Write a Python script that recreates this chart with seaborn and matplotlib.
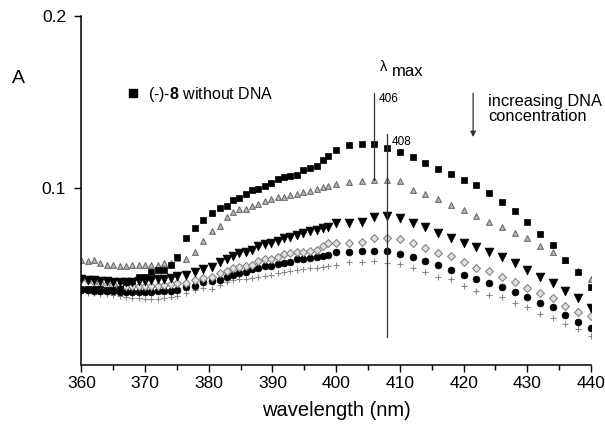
import matplotlib
matplotlib.use("Agg")
import matplotlib.pyplot as plt
from matplotlib.lines import Line2D
from matplotlib.ticker import MultipleLocator
import seaborn as sns

# wavelengths (nm) of the plotted points
wavelength = [
    360, 361, 362, 363, 364, 365, 366, 367, 368, 369, 370, 371, 372, 373, 374, 375,
    376.4, 377.8, 379.1, 380.5, 381.8, 382.8, 383.8, 384.8, 385.8, 386.8, 387.8,
    388.8, 389.8, 390.8, 391.8, 392.8, 393.8, 394.8, 395.9, 397, 398, 398.7, 400,
    402, 404, 406, 408, 410, 412, 414, 416, 418, 420, 422, 424, 426, 428, 430,
    432, 434, 436, 438, 440,
]

# (-)-8 without DNA
abs_free = [
    0.041, 0.041, 0.041, 0.041, 0.0405, 0.0405, 0.041, 0.0453, 0.046, 0.048, 0.0483,
    0.0512, 0.0521, 0.0525, 0.055, 0.0599,
    0.0706, 0.0765, 0.081, 0.0853, 0.0885, 0.0895, 0.0928, 0.0938, 0.0966, 0.0985,
    0.0995, 0.101, 0.1029, 0.1053, 0.1064, 0.107, 0.1072, 0.1103, 0.1113, 0.1129,
    0.1161, 0.1186, 0.1219,
    0.125, 0.1252, 0.1256, 0.1229, 0.121, 0.1177, 0.1147, 0.1111, 0.1082, 0.1045,
    0.1018, 0.0967, 0.0919, 0.0865, 0.0801, 0.0733, 0.0665, 0.058, 0.0512, 0.0425,
]

# increasing DNA concentration
abs_dna1 = [
    0.0578, 0.0572, 0.0578, 0.056, 0.0553, 0.0549, 0.0547, 0.0547, 0.0549, 0.0549,
    0.0553, 0.0549, 0.0553, 0.0562, 0.0564, 0.0593,
    0.0589, 0.0626, 0.069, 0.075, 0.0776, 0.0828, 0.0862, 0.0874, 0.0878, 0.0895,
    0.0907, 0.0923, 0.0934, 0.0945, 0.0948, 0.0958, 0.0963, 0.0975, 0.0983, 0.0995,
    0.1002, 0.1012, 0.1022,
    0.1032, 0.1037, 0.1045, 0.1048, 0.1037, 0.099, 0.0963, 0.0935, 0.0902, 0.0869,
    0.0836, 0.0803, 0.0774, 0.0739, 0.0709, 0.0664, 0.0628, 0.0579, 0.0518, 0.0471,
]
abs_dna2 = [
    0.0468, 0.0463, 0.0465, 0.046, 0.0456, 0.0452, 0.0452, 0.045, 0.0452, 0.0456,
    0.046, 0.0465, 0.0467, 0.047, 0.0478, 0.0485,
    0.0492, 0.0512, 0.0529, 0.0541, 0.0568, 0.0589, 0.0606, 0.062, 0.0626, 0.0636,
    0.0663, 0.0671, 0.0681, 0.0692, 0.0706, 0.0715, 0.0725, 0.0735, 0.0748, 0.0754,
    0.0764, 0.0774, 0.0793,
    0.0793, 0.0803, 0.0828, 0.0836, 0.0822, 0.0793, 0.0774, 0.0739, 0.0711, 0.0682,
    0.0653, 0.0624, 0.0595, 0.056, 0.0525, 0.0479, 0.0444, 0.0401, 0.0357, 0.0303,
]
abs_dna3 = [
    0.0475, 0.0462, 0.0455, 0.0448, 0.0442, 0.0438, 0.0435, 0.0432, 0.043, 0.0432,
    0.043, 0.0428, 0.043, 0.0435, 0.044, 0.0445,
    0.0448, 0.0462, 0.0473, 0.0483, 0.0502, 0.0516, 0.0531, 0.0541, 0.0545, 0.0551,
    0.0574, 0.0584, 0.0586, 0.0599, 0.0615, 0.0619, 0.0625, 0.0628, 0.0634, 0.064,
    0.066, 0.068, 0.068,
    0.0682, 0.0686, 0.0706, 0.0711, 0.0702, 0.0677, 0.0651, 0.0622, 0.0603, 0.057,
    0.0531, 0.0518, 0.0483, 0.0454, 0.0415, 0.0386, 0.0357, 0.0312, 0.0279, 0.0254,
]
abs_dna4 = [
    0.0405, 0.0405, 0.0403, 0.0402, 0.04, 0.0398, 0.0396, 0.0395, 0.0396, 0.0397,
    0.0395, 0.0396, 0.0398, 0.04, 0.0402, 0.0405,
    0.0425, 0.043, 0.0452, 0.046, 0.0462, 0.0479, 0.0492, 0.0506, 0.0512, 0.0527,
    0.0531, 0.0545, 0.0545, 0.0556, 0.0564, 0.0568, 0.0584, 0.0586, 0.059, 0.0599,
    0.0603, 0.0609, 0.0628,
    0.0628, 0.0632, 0.0632, 0.0632, 0.0618, 0.0595, 0.0574, 0.055, 0.0525, 0.0496,
    0.0469, 0.0444, 0.0421, 0.0392, 0.0367, 0.0332, 0.0305, 0.026, 0.0221, 0.0183,
]
abs_dna5 = [
    0.0395, 0.039, 0.0388, 0.0383, 0.038, 0.0375, 0.037, 0.0365, 0.036, 0.0358,
    0.0355, 0.0352, 0.0355, 0.036, 0.0365, 0.037,
    0.039, 0.0405, 0.0415, 0.0412, 0.0434, 0.0454, 0.0463, 0.0467, 0.0469, 0.0473,
    0.0483, 0.0487, 0.0492, 0.0506, 0.0512, 0.0518, 0.0525, 0.0528, 0.0531, 0.0535,
    0.0537, 0.0545, 0.055,
    0.057, 0.057, 0.0576, 0.0564, 0.0556, 0.0531, 0.0512, 0.0479, 0.0467, 0.0429,
    0.0401, 0.0376, 0.0363, 0.0332, 0.0305, 0.0266, 0.0246, 0.0208, 0.0177, 0.0138,
]

sns.set_style("ticks")
plt.rcParams["font.family"] = ["Liberation Sans", "DejaVu Sans"]
plt.rcParams["mathtext.fontset"] = "custom"
plt.rcParams["mathtext.rm"] = "Liberation Sans"
plt.rcParams["mathtext.bf"] = "Liberation Sans:bold"
for key in ("text.color", "axes.labelcolor", "xtick.color", "ytick.color"):
    plt.rcParams[key] = "black"

fig = plt.figure(figsize=(6.05, 4.25), dpi=100)
ax = fig.add_axes([0.1345, 0.142, 0.8423, 0.8209])

# (values, marker, face, edge, size, linewidth)
styles = [
    (abs_dna5, "+", "#8a8a8a", "#8a8a8a", 24, 0.8),
    (abs_dna4, "o", "black", "black", 24, 0.5),
    (abs_dna3, "D", "#e0e0e0", "#858585", 16, 0.8),
    (abs_dna2, "v", "black", "black", 40, 0.5),
    (abs_dna1, "^", "#b8b8b8", "#6e6e6e", 17, 0.8),
    (abs_free, "s", "black", "black", 24, 0.5),
]
for vals, marker, face, edge, size, lw in styles:
    if marker == "+":
        sns.scatterplot(x=wavelength, y=vals, marker=marker, color=face,
                        s=size, linewidth=lw, ax=ax, legend=False)
    else:
        sns.scatterplot(x=wavelength, y=vals, marker=marker, color=face,
                        edgecolor=edge, s=size, linewidth=lw, ax=ax, legend=False)

ax.set_xlim(360, 440)
ax.set_ylim(-0.0028, 0.2)
ax.xaxis.set_major_locator(MultipleLocator(10))
ax.xaxis.set_minor_locator(MultipleLocator(5))
ax.set_yticks([0.1, 0.2])
ax.set_yticklabels(["0.1", "0.2"])
ax.tick_params(axis="both", which="major", direction="out", length=5,
               width=1, labelsize=12.5, color="black")
ax.tick_params(axis="x", which="minor", direction="out", length=3.5, width=1)
ax.tick_params(axis="y", pad=6)
sns.despine(ax=ax)
for side in ("left", "bottom"):
    ax.spines[side].set_linewidth(1.1)
    ax.spines[side].set_color("black")

ax.set_xlabel("wavelength (nm)", fontsize=14.5, labelpad=7)
ax.set_ylabel("A", rotation=0, fontsize=14, ha="center", va="center")
ax.yaxis.set_label_coords(-0.124, 0.819)

# lambda max markers
ax.plot([406, 406], [0.1045, 0.1552], color="#333333", lw=0.9, zorder=1)
ax.plot([408, 408], [0.013, 0.1312], color="#333333", lw=0.9, zorder=1)
ax.text(406.6, 0.1516, "406", fontsize=8.5, va="center", ha="left")
ax.text(408.7, 0.1267, "408", fontsize=8.5, va="center", ha="left")
ax.text(407.4, 0.1705, "\u03bb", fontsize=10.5, va="center", ha="center")
ax.text(408.8, 0.1649, "max", fontsize=12, va="baseline", ha="left")

# DNA arrow and note
ax.annotate("", xy=(421.5, 0.1295), xytext=(421.5, 0.155),
            arrowprops=dict(arrowstyle="-|>", color="#333333", lw=0.9,
                            mutation_scale=8, shrinkA=0, shrinkB=0))
ax.text(423.8, 0.1545, "increasing DNA\nconcentration", fontsize=11.8,
        va="top", ha="left", linespacing=1.0)

handle = Line2D([], [], marker="s", ls="", color="black", markersize=5.8)
ax.legend(handles=[handle], labels=[r"(-)-$\mathbf{8}$ without DNA"],
          loc="center left", bbox_to_anchor=(0.088, 0.775), frameon=False,
          fontsize=11.5, handlelength=0.8, handletextpad=0.55,
          borderpad=0, borderaxespad=0)

fig.savefig("out.png", dpi=100)
